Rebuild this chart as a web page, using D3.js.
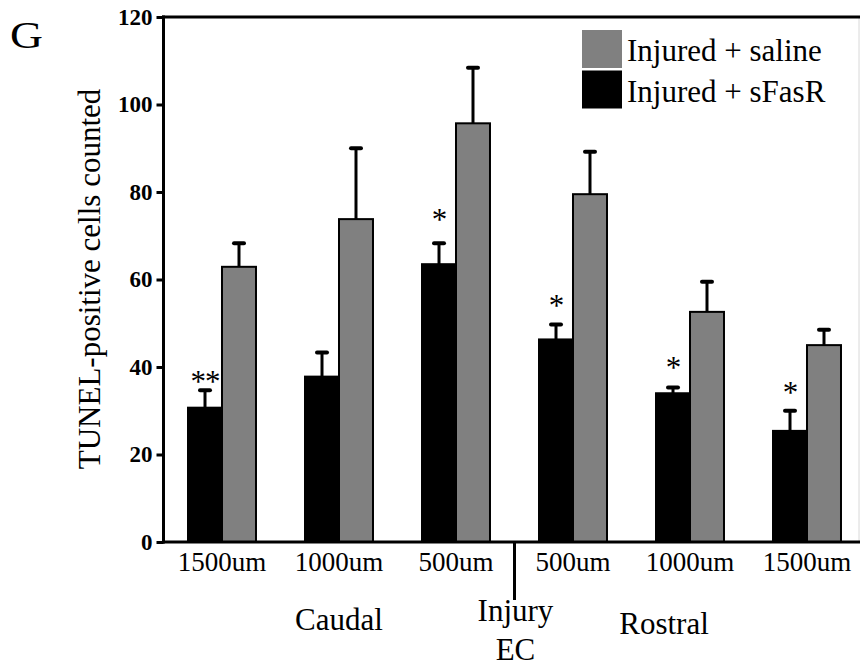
<!DOCTYPE html>
<html>
<head>
<meta charset="utf-8">
<script src="https://cdn.jsdelivr.net/npm/d3@7"></script>
<style>
  html, body { margin: 0; padding: 0; background: #fff; }
  svg { display: block; }
  text { font-family: "Liberation Serif", "Times New Roman", "DejaVu Serif", serif; fill: #000; }
</style>
</head>
<body>
<svg id="chart" width="860" height="671"></svg>
<script>
// ---- data ----
const categories = ["1500um", "1000um", "500um", "500um", "1000um", "1500um"];
const seriesNames = ["Injured + sFasR", "Injured + saline"];
const sfasrMean = [30.7, 37.8, 63.5, 46.3, 34.0, 25.4];
const sfasrErr  = [4.0, 5.5, 4.8, 3.4, 1.3, 4.6];
const salineMean = [62.9, 73.8, 95.7, 79.5, 52.6, 45.0];
const salineErr  = [5.4, 16.2, 12.7, 9.7, 6.9, 3.5];
const sigMarks = ["**", "", "*", "*", "*", "*"];
const sigLevel = [37.9, 0, 75.0, 55.3, 41.1, 35.4];
const yTicks = [0, 20, 40, 60, 80, 100, 120];
const regionLabels = ["Caudal", "Rostral"];
const yLabel = "TUNEL-positive cells counted";
const panelLetter = "G";

const colors = { "Injured + sFasR": "#000000", "Injured + saline": "#808080" };

// ---- layout ----
const svg = d3.select("#chart");
const mLeft = 163.5, mBottom = 542, mTop = 17;
const step = 117;

const x = d3.scaleBand()
  .domain(d3.range(categories.length))
  .range([mLeft, mLeft + step * categories.length])
  .paddingInner(0.419)
  .paddingOuter(0.2095);

const xs = d3.scaleBand()
  .domain(seriesNames)
  .range([0, x.bandwidth()]);

const y = d3.scaleLinear().domain([0, 120]).range([mBottom, mTop]);

const rows = categories.map((c, i) => ({
  i, c,
  vals: [
    { s: seriesNames[0], m: sfasrMean[i], e: sfasrErr[i] },
    { s: seriesNames[1], m: salineMean[i], e: salineErr[i] }
  ]
}));

// right faint border
svg.append("line")
  .attr("x1", 859).attr("x2", 859).attr("y1", mTop).attr("y2", mBottom)
  .attr("stroke", "#d8d8d8").attr("stroke-width", 1);

// bars + error bars
const g = svg.append("g");
const grp = g.selectAll("g.grp").data(rows).join("g")
  .attr("class", "grp")
  .attr("transform", d => `translate(${x(d.i)},0)`);

grp.selectAll("g.err").data(d => d.vals).join("g").attr("class", "err").each(function(d) {
  const cx = xs(d.s) + xs.bandwidth() / 2;
  const sel = d3.select(this);
  sel.append("line")
    .attr("x1", cx).attr("x2", cx)
    .attr("y1", y(d.m)).attr("y2", y(d.m + d.e))
    .attr("stroke", "#000").attr("stroke-width", 3);
  sel.append("line")
    .attr("x1", cx - 5).attr("x2", cx + 5)
    .attr("y1", y(d.m + d.e)).attr("y2", y(d.m + d.e))
    .attr("stroke", "#000").attr("stroke-width", 4).attr("stroke-linecap", "round");
});

grp.selectAll("rect.bar").data(d => d.vals).join("rect")
  .attr("class", "bar")
  .attr("x", d => xs(d.s))
  .attr("width", xs.bandwidth())
  .attr("y", d => y(d.m))
  .attr("height", d => y(0) - y(d.m))
  .attr("fill", d => colors[d.s])
  .attr("stroke", "#000")
  .attr("stroke-width", 2);

// significance marks
grp.filter(d => sigMarks[d.i] !== "")
  .append("text")
  .attr("x", d => xs(seriesNames[0]) + xs.bandwidth() / 2)
  .attr("y", d => y(sigLevel[d.i]) + 16)
  .attr("text-anchor", "middle")
  .style("font-size", "31px")
  .style("letter-spacing", "-1px")
  .text(d => sigMarks[d.i]);

// y axis
const yAxis = d3.axisLeft(y).tickValues(yTicks).tickSize(7).tickPadding(4);
const ya = svg.append("g").attr("transform", `translate(${mLeft},0)`).call(yAxis);
ya.select(".domain").remove();
ya.selectAll(".tick line").attr("stroke", "#000").attr("stroke-width", 3);
ya.selectAll(".tick text")
  .style("font-family", "'Liberation Serif', 'Times New Roman', serif")
  .style("font-size", "23px").style("font-weight", "bold").attr("fill", "#000");

svg.append("line").attr("x1", mLeft).attr("x2", mLeft).attr("y1", mTop - 1.5).attr("y2", mBottom + 1.5)
  .attr("stroke", "#000").attr("stroke-width", 3);
svg.append("line").attr("x1", mLeft - 1.5).attr("x2", 860).attr("y1", mTop).attr("y2", mTop)
  .attr("stroke", "#000").attr("stroke-width", 3);
svg.append("line").attr("x1", mLeft - 1.5).attr("x2", 860).attr("y1", mBottom).attr("y2", mBottom)
  .attr("stroke", "#000").attr("stroke-width", 3);

// x tick labels
const xAxis = d3.axisBottom(x).tickFormat(i => categories[i]).tickSize(0).tickPadding(10);
const xa = svg.append("g").attr("transform", `translate(0,${mBottom})`).call(xAxis);
xa.select(".domain").remove();
xa.selectAll(".tick text")
  .style("font-family", "'Liberation Serif', 'Times New Roman', serif")
  .style("font-size", "27px").attr("fill", "#000");

// injury divider
const divX = (x(2) + x.bandwidth() + x(3)) / 2;
svg.append("line").attr("x1", divX).attr("x2", divX).attr("y1", mBottom).attr("y2", 600)
  .attr("stroke", "#000").attr("stroke-width", 3);

// region labels
svg.append("text").attr("x", x(1) + x.bandwidth() / 2).attr("y", 630)
  .attr("text-anchor", "middle").style("font-size", "31px").text(regionLabels[0]);
svg.append("text").attr("x", x(4) + x.bandwidth() / 2 - 26).attr("y", 634)
  .attr("text-anchor", "middle").style("font-size", "31px").text(regionLabels[1]);
svg.append("text").attr("x", divX + 1).attr("y", 621)
  .attr("text-anchor", "middle").style("font-size", "31px").text("Injury");
svg.append("text").attr("x", divX + 1).attr("y", 660)
  .attr("text-anchor", "middle").style("font-size", "31px").text("EC");

// y label
svg.append("text")
  .attr("transform", `translate(100,279) rotate(-90)`)
  .attr("text-anchor", "middle")
  .style("font-size", "31px")
  .text(yLabel);

// panel letter
svg.append("text").attr("x", 10).attr("y", 48).style("font-size", "38px")
  .attr("transform", "translate(10,48) scale(1.2,1) translate(-10,-48)")
  .text(panelLetter);

// legend
const legendOrder = [seriesNames[1], seriesNames[0]];
const lg = svg.append("g").attr("transform", "translate(582,30)");
legendOrder.forEach((s, k) => {
  lg.append("rect").attr("x", 0).attr("y", k * 40.5).attr("width", 40).attr("height", 38)
    .attr("fill", colors[s]);
  lg.append("text").attr("x", 45).attr("y", k * 40.5 + 31)
    .style("font-size", "31px").text(s);
});
</script>
</body>
</html>
